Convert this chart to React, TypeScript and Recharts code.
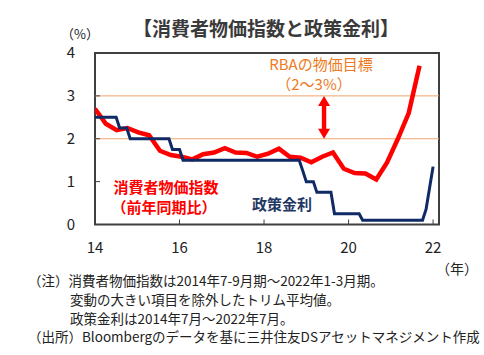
import React from 'react';
import { LineChart, Line, XAxis, YAxis, ReferenceLine, ReferenceArea } from 'recharts';

const FONT = "'Noto Sans CJK JP', 'Noto Sans', sans-serif";

// 消費者物価指数（トリム平均値、前年同期比、%）2014年7-9月期～2022年1-3月期
const cpiValues = [
  2.7, 2.35, 2.2, 2.25, 2.15, 2.08, 1.72, 1.62, 1.58, 1.52, 1.64, 1.68, 1.78, 1.68, 1.67, 1.58,
  1.65, 1.77, 1.58, 1.56, 1.45, 1.58, 1.68, 1.3, 1.2, 1.19, 1.05, 1.45, 2.0, 2.6, 3.7,
];

// 政策金利（%）月末値 2014年7月～2022年7月
const policyRate = [
  2.5, 2.5, 2.5, 2.5, 2.5, 2.5, 2.5,
  2.25, 2.25, 2.25,
  2.0, 2.0, 2.0, 2.0, 2.0, 2.0, 2.0, 2.0, 2.0, 2.0, 2.0, 2.0,
  1.75, 1.75, 1.75,
  1.5, 1.5, 1.5, 1.5, 1.5, 1.5, 1.5, 1.5, 1.5, 1.5, 1.5, 1.5, 1.5, 1.5, 1.5, 1.5, 1.5,
  1.5, 1.5, 1.5, 1.5, 1.5, 1.5, 1.5, 1.5, 1.5, 1.5, 1.5, 1.5, 1.5, 1.5, 1.5, 1.5, 1.5,
  1.25,
  1.0, 1.0, 1.0,
  0.75, 0.75, 0.75, 0.75, 0.75,
  0.25, 0.25, 0.25, 0.25, 0.25, 0.25, 0.25, 0.25,
  0.1, 0.1, 0.1, 0.1, 0.1, 0.1, 0.1, 0.1, 0.1, 0.1, 0.1, 0.1, 0.1, 0.1, 0.1, 0.1, 0.1, 0.1,
  0.35, 0.85, 1.35,
];

const xTicks = [14, 16, 18, 20, 22];
const yTicks = [0, 1, 2, 3, 4];
const targetBand = [2, 3];
const arrowYear = 19.42;

// 年軸：2014年7月 = 14
const rateData = policyRate.map((rate, m) => ({ t: 14 + m / 12, rate }));
const cpiData = cpiValues.map((v, q) => ({ q, v }));

const DoubleArrow = (props: any) => {
  const { x1, y1, y2 } = props;
  const top = Math.min(y1, y2);
  const bottom = Math.max(y1, y2);
  const hw = 6;
  const hh = 10;
  return (
    <g fill="#FF0000">
      <rect x={x1 - 2.2} y={top + hh - 1} width={4.4} height={bottom - top - 2 * hh + 2} />
      <polygon points={`${x1},${top} ${x1 - hw},${top + hh} ${x1 + hw},${top + hh}`} />
      <polygon points={`${x1},${bottom} ${x1 - hw},${bottom - hh} ${x1 + hw},${bottom - hh}`} />
    </g>
  );
};

const Text = ({ x, y, children, size = 14, color = '#222', bold = false, anchor = 'center' }: any) => (
  <div
    style={{
      position: 'absolute',
      left: x,
      top: y,
      transform: anchor === 'center' ? 'translate(-50%, -50%)' : 'translate(0, -50%)',
      fontSize: size,
      lineHeight: 1,
      fontWeight: bold ? 700 : 400,
      color,
      whiteSpace: 'nowrap',
      fontFamily: FONT,
    }}
  >
    {children}
  </div>
);

export default function App() {
  return (
    <div style={{ position: 'absolute', left: 0, top: 0, width: 484, height: 355, background: '#fff' }}>
      <LineChart
        width={484}
        height={355}
        data={rateData}
        margin={{ top: 53, right: 45, bottom: 100.5, left: 55 }}
      >
        <XAxis
          xAxisId="year"
          dataKey="t"
          type="number"
          domain={[14, 22.14]}
          allowDataOverflow
          ticks={xTicks}
          height={30}
          axisLine={false}
          tickSize={-5}
          tickMargin={23}
          tickLine={{ stroke: '#404040' }}
          tick={{ fontSize: 15, fill: '#222', fontFamily: FONT }}
        />
        <XAxis xAxisId="q" dataKey="q" type="number" domain={[0, 31.8]} allowDataOverflow height={0} hide />
        <YAxis
          domain={[0, 4]}
          ticks={yTicks}
          width={40}
          axisLine={false}
          tickSize={-5}
          tickMargin={25}
          tickLine={{ stroke: '#404040' }}
          tick={{ fontSize: 15, fill: '#222', fontFamily: FONT }}
        />
        {targetBand.map((y) => (
          <ReferenceLine key={y} xAxisId="year" y={y} stroke="#F0A36B" strokeWidth={1} />
        ))}
        <ReferenceLine
          xAxisId="year"
          segment={[
            { x: arrowYear, y: targetBand[1] },
            { x: arrowYear, y: targetBand[0] },
          ]}
          shape={DoubleArrow}
        />
        <Line
          xAxisId="q"
          data={cpiData}
          dataKey="v"
          type="linear"
          stroke="#FF0000"
          strokeWidth={4.5}
          dot={false}
          isAnimationActive={false}
        />
        <Line
          xAxisId="year"
          dataKey="rate"
          type="linear"
          stroke="#0F2A64"
          strokeWidth={3}
          dot={false}
          isAnimationActive={false}
        />
        <ReferenceArea
          xAxisId="year"
          x1={14}
          x2={22.14}
          y1={0}
          y2={4}
          fill="none"
          stroke="#404040"
          strokeWidth={2}
          ifOverflow="visible"
        />
      </LineChart>

      <Text x={266} y={27} size={19} bold color="#3A3A3A">【消費者物価指数と政策金利】</Text>
      <Text x={80} y={33} size={13}>（%）</Text>
      <Text x={457} y={268} size={14}>（年）</Text>

      <Text x={321} y={63} size={15} color="#EE7A22">RBAの物価目標</Text>
      <Text x={314} y={83} size={15} color="#EE7A22">（2～3%）</Text>
      <Text x={166} y={186} size={15} bold color="#FF0000">消費者物価指数</Text>
      <Text x={164} y={206} size={15} bold color="#FF0000">（前年同期比）</Text>
      <Text x={282} y={203} size={15} bold color="#1F3864">政策金利</Text>

      <Text x={28} y={281} size={13.5} anchor="left">（注）消費者物価指数は2014年7-9月期～2022年1-3月期。</Text>
      <Text x={70} y={300} size={13.5} anchor="left">変動の大きい項目を除外したトリム平均値。</Text>
      <Text x={70} y={319} size={13.5} anchor="left">政策金利は2014年7月～2022年7月。</Text>
      <Text x={28} y={337} size={13.5} anchor="left">（出所）Bloombergのデータを基に三井住友DSアセットマネジメント作成</Text>
    </div>
  );
}
